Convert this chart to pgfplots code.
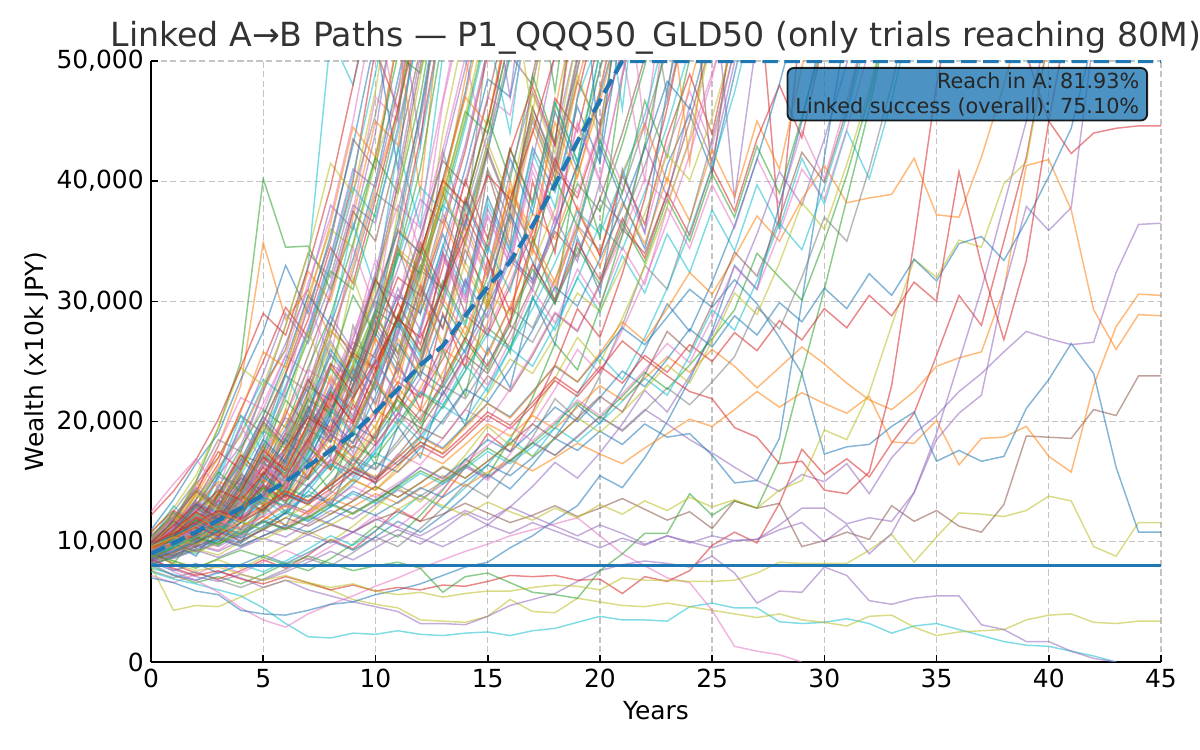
\documentclass[border=0pt]{standalone}
\usepackage{fontspec}
\setmainfont{DejaVu Sans}
\usepackage{pgfplots}
\pgfplotsset{compat=1.18}
\definecolor{T0}{HTML}{1F77B4}
\definecolor{T1}{HTML}{FF7F0E}
\definecolor{T2}{HTML}{2CA02C}
\definecolor{T3}{HTML}{D62728}
\definecolor{T4}{HTML}{9467BD}
\definecolor{T5}{HTML}{8C564B}
\definecolor{T6}{HTML}{E377C2}
\definecolor{T7}{HTML}{7F7F7F}
\definecolor{T8}{HTML}{BCBD22}
\definecolor{T9}{HTML}{17BECF}
\definecolor{gridc}{HTML}{C4C4C4}
\newcommand{\pth}[2]{\addplot[#1, line width=0.7bp, opacity=0.55] table[x expr=\coordindex, y index=0, header=false, row sep=\\]{#2\\};}
\begin{document}
\begin{tikzpicture}
\path[use as bounding box] (-72.48bp,-42.24bp) rectangle (503.52bp,317.76bp);
\begin{axis}[
  at={(0,0)}, anchor=south west,
  scale only axis, width=484.8bp, height=288.5bp,
  xmin=0, xmax=45, ymin=0, ymax=50000,
  xtick={0,5,...,45}, ytick={0,10000,20000,30000,40000,50000},
  axis lines*=left,
  axis line style={line width=0.9bp, black},
  tick align=inside, major tick length=3.5bp,
  tick style={line width=0.8bp, black},
  grid=major,
  major grid style={line width=0.6bp, gridc, dash pattern=on 3bp off 1.6bp},
  scaled y ticks=false,
  yticklabel style={/pgf/number format/.cd, fixed, 1000 sep={,}},
  /pgf/number format/assume math mode=true,
  tick label style={font=\fontsize{12}{14}\selectfont, text=black},
  clip mode=individual,
]
\coordinate (BL) at (rel axis cs:0,0);
\coordinate (TR) at (rel axis cs:1,1);
\coordinate (TC) at (rel axis cs:0.5,1);
\coordinate (BC) at (rel axis cs:0.5,0);
\coordinate (LC) at (rel axis cs:0,0.5);
% ---- fast paths
\pth{T9}{9500\\11500\\13500\\16000\\19000\\23000\\26000\\33000\\52000\\48000\\56000}
\pth{T2}{9000\\11800\\15000\\19500\\25000\\40200\\34500\\34600\\31000\\36000\\42000\\39000\\47000\\58000}
\pth{T1}{8800\\11000\\14000\\18000\\23000\\34900\\28500\\31000\\27000\\33000\\39500\\46000\\55000}
\pth{T3}{9200\\10800\\13500\\16500\\21000\\25000\\29500\\27000\\33000\\40000\\51000\\46000\\58000}
\pth{T4}{8700\\10200\\12000\\15500\\18000\\22500\\26500\\31000\\38000\\36000\\44000\\56000\\43000\\60000}
\pth{T5}{9800\\11500\\14800\\17000\\20500\\19000\\24000\\29500\\35000\\43500\\41000\\52000}
\pth{T6}{8500\\9800\\12500\\14000\\17500\\21500\\25500\\24000\\31000\\37500\\47000\\45000\\60000}
\pth{T7}{10200\\12500\\15000\\18500\\17500\\22500\\28000\\34000\\32000\\39000\\45500\\55000}
\pth{T8}{9400\\11200\\13800\\13000\\16500\\20500\\24500\\30500\\36000\\34500\\41500\\47500\\54000}
\pth{T9}{8900\\10500\\12200\\15200\\19800\\23500\\22000\\27500\\33500\\40500\\49000\\57000}
\pth{T0}{11000\\13500\\16500\\19000\\23500\\27500\\33000\\29000\\35500\\43000\\52000\\41000\\57000}
\pth{T1}{9600\\11800\\13000\\16200\\18800\\22800\\26000\\32500\\30000\\37000\\45000\\43000\\55000}
\pth{T2}{8300\\9800\\11800\\14500\\17800\\21000\\19500\\24500\\28800\\34800\\42000\\50500\\49000\\58000}
\pth{T3}{10500\\12000\\14200\\17500\\16000\\19800\\24000\\28500\\34500\\31500\\38500\\46000\\54000}
\pth{T4}{9100\\10300\\12800\\15800\\19500\\24000\\29000\\26500\\31500\\38000\\36500\\44500\\53000}
\pth{T5}{8600\\10400\\11600\\14000\\17200\\16500\\20500\\25500\\30500\\37500\\35000\\42500\\51000}
\pth{T6}{9900\\11700\\14500\\18000\\22000\\21000\\25500\\31500\\37000\\45000\\55000\\45000\\62000}
\pth{T7}{8400\\9500\\11500\\13800\\16500\\20000\\23800\\22500\\27000\\32500\\39000\\37500\\45500\\56000}
\pth{T8}{10800\\12800\\15500\\19500\\24500\\23000\\28000\\34000\\41500\\39000\\47500\\59000}
\pth{T9}{9300\\11000\\13200\\12500\\15500\\19000\\23000\\27500\\33000\\39500\\37000\\44000\\53000}
\pth{T0}{8200\\9600\\11000\\13500\\16800\\20500\\25000\\30500\\28000\\33500\\40000\\48500\\57000}
\pth{T1}{9700\\11400\\13900\\17000\\20800\\25800\\24500\\30000\\36500\\44500\\42000\\52000\\39000\\56000}
\pth{T2}{8800\\10600\\12400\\11800\\14500\\18000\\22200\\26800\\32500\\31000\\37500\\45500\\56000}
\pth{T3}{12200\\14200\\16800\\20200\\24500\\29000\\27200\\32800\\39500\\48000\\57000}
\pth{T4}{9000\\10500\\12600\\15400\\14800\\18500\\22800\\27800\\33800\\41000\\39500\\47500\\58000}
\pth{T7}{9300\\12500\\10500\\14800\\12400\\18000\\15000\\22500\\19000\\28000\\23500\\34500\\29000\\42500\\36000\\52000}
\pth{T8}{8900\\11600\\15000\\12700\\17500\\14800\\21000\\27500\\23200\\32000\\27000\\37500\\31700\\44000\\53000}
\pth{T9}{10100\\13000\\11200\\15600\\20500\\17400\\24000\\20300\\28000\\36500\\31000\\42800\\36200\\50500}
\pth{T5}{9000\\11700\\10000\\14000\\11900\\16700\\14200\\19900\\17000\\24000\\20400\\28600\\24300\\34000\\29000\\40800\\34700\\48800\\57000}
\pth{T6}{12500\\14800\\16900\\14400\\19600\\16600\\22600\\29800\\25300\\34500\\29300\\40000\\34000\\46500\\55000}
% ---- medium paths
\pth{T5}{9200\\10100\\11800\\13500\\15200\\14300\\17000\\19500\\22500\\21000\\24800\\28500\\33000\\31000\\36500\\42500\\50500\\48000\\57000}
\pth{T6}{8700\\9400\\10800\\12500\\11800\\14000\\16500\\19800\\23500\\22000\\26000\\30500\\29000\\34000\\40000\\47000\\45500\\55000}
\pth{T7}{9500\\10800\\12100\\11500\\13800\\16200\\19000\\18000\\21500\\25500\\30000\\28500\\33500\\39500\\37500\\44000\\52000}
\pth{T8}{8100\\8900\\10300\\12000\\14000\\13200\\15800\\18800\\22000\\26000\\24500\\28800\\34000\\40000\\38000\\45000\\54000}
\pth{T9}{9800\\11200\\12500\\14200\\16400\\19200\\18200\\21500\\25500\\24000\\28500\\33500\\39500\\37500\\44500\\52500\\44000\\58000}
\pth{T0}{8500\\9200\\10400\\9900\\11600\\13800\\16300\\19300\\18300\\21800\\25800\\30500\\29000\\34500\\41000\\48500\\47000\\56000}
\pth{T1}{10200\\11300\\13000\\15000\\14200\\16800\\19800\\23200\\27500\\26000\\30500\\36000\\34000\\40000\\47000\\55500}
\pth{T2}{9000\\9800\\10900\\12300\\13900\\15800\\15000\\17800\\21000\\24800\\29300\\27800\\32800\\38800\\45800\\44000\\52000}
\pth{T3}{8400\\9500\\11200\\10600\\12500\\14800\\17400\\20500\\19500\\23000\\27200\\32000\\30500\\36000\\42500\\50500}
\pth{T4}{9600\\10400\\11800\\13400\\12800\\15100\\17800\\21000\\24800\\23500\\27700\\32700\\38500\\36500\\43000\\51000}
\pth{T5}{8900\\10000\\10800\\12400\\14500\\17000\\16200\\19100\\22500\\26600\\25300\\29900\\35300\\41700\\39600\\46800\\55000}
\pth{T6}{10400\\11800\\13300\\12700\\14900\\17500\\20600\\24300\\23100\\27300\\32200\\38000\\36100\\42600\\50300\\42000\\56000}
\pth{T7}{8000\\8800\\9900\\11200\\10700\\12600\\14900\\17600\\20800\\19800\\23400\\27600\\32600\\31000\\36600\\43200\\51000}
\pth{T8}{9300\\10700\\12300\\14100\\13400\\15800\\18600\\22000\\20900\\24700\\29100\\34400\\32700\\38600\\45500\\54000}
\pth{T9}{8600\\9300\\10200\\11500\\13200\\12500\\14800\\17400\\20600\\24300\\23100\\27300\\32200\\38000\\36100\\42600\\50300}
\pth{T0}{9900\\11000\\12400\\11800\\13900\\16400\\19400\\22900\\21800\\25700\\30300\\35800\\34000\\40100\\47400\\57000}
\pth{T1}{8300\\9100\\10500\\12000\\13800\\13100\\15500\\18300\\21600\\25500\\24200\\28600\\33700\\39800\\47000\\44700\\54000}
\pth{T2}{9400\\10300\\11900\\11300\\13300\\15700\\18500\\21800\\20700\\24400\\28800\\34000\\32300\\38100\\45000\\53000}
\pth{T3}{8800\\9700\\10600\\12200\\14000\\16500\\15700\\18500\\21800\\25700\\24400\\28800\\34000\\40100\\38100\\45000\\53000}
\pth{T4}{10100\\11500\\13100\\12400\\14600\\17200\\20300\\19300\\22800\\26900\\31700\\30100\\35500\\41900\\49400\\58000\\47000\\62000}
\pth{T1}{9000\\9900\\10600\\12100\\13800\\13000\\14900\\16900\\16000\\18400\\21000\\19800\\22800\\26100\\24600\\28200\\32500\\37300\\35200\\40500\\46600\\54000}
\pth{T2}{8600\\9000\\10300\\9700\\11100\\12700\\14500\\13700\\15700\\18000\\17000\\19500\\22400\\21100\\24200\\27800\\26200\\30100\\34600\\39800\\37500\\43100\\49600\\57000}
\pth{T3}{9800\\10900\\10200\\11700\\13400\\12600\\14400\\16500\\18900\\17800\\20400\\23300\\22000\\25200\\28900\\27200\\31200\\35800\\41000\\38600\\44300\\51000}
\pth{T4}{8900\\9800\\11000\\12500\\11800\\13500\\15500\\14600\\16700\\19100\\18000\\20600\\23600\\22200\\25400\\29100\\33400\\31500\\36100\\41400\\47500\\56000}
\pth{T5}{9300\\9800\\9200\\10500\\12000\\13700\\12900\\14700\\16800\\15800\\18100\\20700\\19500\\22300\\25500\\24000\\27400\\31300\\35800\\33700\\38500\\44000\\50300}
\pth{T6}{10300\\11400\\12700\\12000\\13700\\15700\\14800\\16900\\19300\\18200\\20800\\23800\\22400\\25600\\29300\\27600\\31600\\36200\\41400\\39000\\44600\\51000\\40000\\55000}
\pth{T7}{8200\\8800\\9900\\11300\\10700\\12200\\13900\\13100\\15000\\17100\\16100\\18400\\21000\\19800\\22600\\25800\\29500\\27800\\31800\\36300\\34200\\39100\\44700\\51000}
\pth{T8}{9700\\10500\\11800\\11100\\12700\\14500\\13700\\15600\\17800\\16800\\19200\\21900\\25000\\23600\\26900\\30700\\28900\\33000\\37700\\43100\\49200\\56000}
\pth{T9}{8800\\9500\\9000\\10200\\11600\\11000\\12500\\14200\\13400\\15300\\17400\\16400\\18700\\21300\\20100\\22900\\26100\\24600\\28000\\31900\\36400\\34300\\39100\\44600\\51000}
\pth{T0}{9200\\10200\\11500\\10900\\12400\\14100\\16100\\15200\\17300\\19700\\18600\\21200\\24200\\22800\\26000\\29600\\33700\\31800\\36300\\41400\\47200\\54000}
\pth{T3}{9500\\11800\\10300\\13500\\12000\\15800\\13600\\18500\\16000\\21500\\18200\\25000\\21000\\29000\\24500\\33500\\28000\\40000\\34000\\47000\\55000}
\pth{T4}{8700\\10800\\9500\\12400\\15800\\13400\\17900\\15200\\20500\\17400\\23600\\20000\\27500\\23200\\31800\\27000\\37200\\31600\\43500\\52000}
\pth{T2}{9100\\8200\\10500\\12900\\11000\\14600\\12400\\16700\\14200\\19300\\16400\\22300\\19000\\26000\\22100\\30200\\25700\\35300\\30000\\41500\\35300\\48700\\57000}
\pth{T1}{10000\\12300\\10800\\14100\\12300\\16400\\21000\\17900\\23800\\20300\\27000\\23000\\30700\\26100\\35000\\29800\\40000\\34000\\46000\\55000}
\pth{T0}{8400\\9900\\8800\\11400\\9900\\13000\\11300\\14800\\12900\\17000\\14800\\19600\\17000\\22600\\19700\\26200\\22800\\30400\\26400\\35300\\30700\\41000\\35700\\47700\\56000}
% ---- zigzag paths reaching the top in years 17-27
\pth{T0}{9500\\10800\\12900\\11400\\14700\\13100\\16800\\21200\\18300\\22900\\27400\\24100\\29800\\35600\\31200\\38700\\34300\\42800\\39100\\46200\\41500\\53000}
\pth{T1}{8800\\10600\\9700\\12300\\14900\\13200\\17100\\15400\\19800\\24600\\21300\\26900\\23800\\30500\\36200\\32100\\39400\\35800\\44900\\40300\\47600\\56000}
\pth{T2}{10300\\12400\\11100\\13800\\16900\\15000\\18700\\23500\\20400\\25800\\31900\\28100\\34500\\30200\\37900\\45300\\40100\\48800\\43200\\57000}
\pth{T3}{9100\\10200\\12100\\10900\\13700\\16200\\14500\\18100\\22400\\19800\\24300\\29900\\26400\\32800\\40100\\35200\\42700\\38300\\46900\\44100\\52000}
\pth{T4}{8900\\11100\\13400\\12000\\15300\\13700\\17600\\21900\\19300\\24400\\21500\\27200\\33800\\29700\\36800\\32500\\40700\\47400\\42900\\49200\\58000}
\pth{T5}{9700\\11300\\10400\\12800\\15600\\14100\\17500\\21300\\18900\\23700\\28800\\25600\\31400\\27800\\35100\\42600\\37700\\45500\\40900\\48300\\44600\\55000}
\pth{T6}{8500\\9900\\11600\\10700\\13100\\15900\\14300\\17800\\16000\\20200\\25100\\22100\\27600\\33900\\30100\\37200\\33100\\41500\\36800\\44900\\40200\\48700\\57000}
\pth{T7}{10600\\12100\\14300\\13000\\16200\\19800\\17700\\21900\\26700\\23500\\28900\\25700\\32400\\39000\\34700\\42300\\37600\\46100\\41600\\50500}
\pth{T8}{9200\\10500\\9600\\11900\\14500\\13000\\16100\\19700\\17600\\21800\\19400\\24500\\30000\\26600\\33300\\29600\\37200\\45300\\40400\\48900\\43500\\56000}
\pth{T9}{8700\\10300\\12300\\11200\\13600\\16600\\14900\\18400\\22700\\20200\\25100\\22300\\27900\\34700\\30700\\38200\\34100\\42400\\37800\\46900\\52000}
\pth{T0}{9900\\11700\\10600\\13300\\12100\\15100\\18500\\16600\\20700\\25400\\22600\\28100\\24900\\31300\\38300\\34000\\41900\\37300\\45800\\41000\\49400\\56000}
\pth{T1}{9300\\10900\\13000\\11800\\14500\\17900\\16000\\19900\\24500\\21700\\26900\\23900\\30000\\36800\\32700\\29400\\36200\\44300\\39600\\48200\\55000}
\pth{T2}{8400\\9700\\11500\\10400\\12800\\15700\\14000\\17400\\21400\\19000\\23600\\28900\\25700\\31700\\28200\\35100\\42700\\38000\\46500\\41600\\50700}
\pth{T3}{10800\\12600\\11400\\14000\\17200\\15400\\19100\\23500\\20900\\26000\\31900\\28300\\34900\\31000\\38600\\34400\\42500\\47900\\43000\\56000}
\pth{T4}{9000\\10400\\12400\\11200\\13900\\17000\\15200\\18800\\23000\\20500\\25400\\31100\\27600\\34100\\30400\\37700\\33600\\41700\\50500}
\pth{T5}{9600\\11400\\10300\\12600\\15400\\13800\\17100\\20900\\18600\\23100\\28300\\25200\\31100\\27700\\34300\\30500\\37800\\46100\\41200\\50100}
\pth{T6}{8600\\10100\\12000\\10900\\13400\\16400\\14700\\18200\\16300\\20300\\24900\\22200\\27400\\33600\\29900\\37000\\33000\\40800\\36400\\44700\\39900\\49000\\58000}
\pth{T7}{9400\\11000\\9900\\12300\\15000\\13500\\16700\\20500\\18300\\22700\\27800\\24700\\30500\\37300\\33200\\41000\\36600\\45000\\40200\\49500\\55000}
\pth{T8}{10200\\12000\\14300\\12900\\15800\\19400\\17300\\21500\\26400\\23500\\29000\\25800\\32000\\39200\\34900\\43200\\38400\\47300\\42300\\52000}
\pth{T9}{8300\\9600\\11400\\10300\\12700\\15500\\13900\\17200\\21100\\18800\\23300\\28500\\25400\\31300\\27900\\34600\\30800\\38200\\46600\\41600\\50800}
\pth{T0}{9100\\10200\\11800\\10700\\12900\\15400\\13800\\16900\\20200\\18200\\22100\\26500\\23700\\28800\\25700\\31200\\37300\\33300\\29800\\35900\\42900\\38400\\34400\\41300\\45600\\40800\\48900\\57000}
\pth{T1}{8900\\10500\\9500\\11500\\13800\\12400\\15000\\18000\\16200\\19500\\23400\\21000\\25300\\30300\\27200\\32700\\39200\\35200\\31600\\37900\\33900\\40700\\44800\\39900\\47900\\55000}
\pth{T3}{10000\\11300\\13200\\11900\\14300\\17100\\15400\\18500\\22200\\20000\\24000\\28800\\25900\\31100\\37300\\33500\\29200\\35000\\41900\\37600\\33800\\40500\\36400\\43700\\48900\\43900\\52500}
\pth{T2}{9300\\10700\\9700\\11600\\13900\\12500\\15000\\17900\\16100\\19300\\23100\\20800\\24900\\29800\\26800\\32100\\38400\\34500\\40300\\36200\\43400\\39000\\46700\\42000\\50200}
\pth{T4}{8600\\9800\\11500\\10400\\12400\\14800\\13300\\15900\\19000\\17100\\20500\\24500\\22100\\26500\\31800\\28600\\34300\\30900\\37000\\33300\\39900\\35900\\43000\\38700\\46300\\41700\\49900\\56000}
\pth{T6}{9800\\11000\\12700\\11500\\13800\\16500\\14900\\17800\\21300\\19200\\23000\\27600\\24800\\29700\\35600\\32000\\38300\\34500\\30800\\36900\\44200\\39700\\35700\\42700\\47500\\42800\\51000}
% ---- paths that dip back from the top
\pth{T2}{9000\\10800\\13000\\15800\\14200\\17500\\21800\\19600\\24500\\30500\\27200\\33800\\41000\\52000\\60000\\58000\\63000\\59000\\47500\\61000}
\pth{T6}{9400\\11300\\10300\\13500\\16800\\15100\\19000\\23800\\21300\\26800\\33500\\30000\\37600\\46800\\56000\\62000\\59000\\66000\\61000\\57000\\64000\\60000\\44000\\58000}
\pth{T1}{8700\\10100\\12200\\11000\\13800\\17300\\15500\\19500\\24500\\22000\\27600\\34500\\31000\\39000\\48500\\58000\\55000\\61000\\57000\\63000\\60000\\65000\\61000\\57000\\41500\\56000}
\pth{T4}{10100\\12000\\14500\\13000\\16300\\20400\\18400\\23000\\28800\\25900\\32400\\40500\\50500\\59000\\64000\\60000\\67000\\62000\\66000\\61000\\64000\\60000\\63000\\59000\\62000\\58000\\38500\\52000}
\pth{T0}{9200\\10900\\13100\\11800\\14800\\18500\\16600\\20800\\26000\\23400\\29300\\36600\\45800\\57000\\53000\\60000\\57000\\62000\\58000\\63000\\42000\\58000}
\pth{T3}{8900\\10400\\12500\\11300\\14100\\17600\\15900\\19900\\24800\\22300\\27900\\34900\\43600\\54000\\61000\\57000\\64000\\60000\\66000\\62000\\65000\\61000\\64000\\60000\\63000\\59000\\62000\\58000\\36000\\54000}
\pth{T8}{9700\\11600\\14000\\12600\\15800\\19700\\17700\\22200\\27700\\24900\\31200\\39000\\48700\\58000\\55000\\61000\\57000\\45500\\59000}
\pth{T7}{9000\\10700\\12900\\11600\\14500\\18200\\16400\\20500\\25600\\23000\\28800\\36000\\45000\\56000\\52000\\59000\\55000\\62000\\58000\\64000\\60000\\62000\\58000\\47000\\60000}
\pth{T9}{8600\\10200\\12300\\11100\\13900\\17300\\15600\\19500\\24400\\22000\\27500\\34300\\42900\\53600\\50000\\58000\\55000\\61000\\57000\\63000\\59000\\46000\\62000}
\pth{T5}{9900\\11800\\14200\\12800\\16000\\20000\\18000\\22500\\28200\\25400\\31700\\39700\\49600\\60000\\57000\\63000\\59000\\65000\\61000\\66000\\62000\\64000\\60000\\63000\\59000\\40500\\55000}
% ---- paths lingering at 25-45k
\pth{T2}{9100\\10300\\11800\\10800\\12500\\14500\\13200\\15300\\17800\\16200\\18800\\21800\\19800\\23000\\26700\\24300\\28200\\32700\\29800\\34500\\31400\\36500\\33200\\38500\\35000\\40600\\37000\\42900\\39000\\45300\\52000}
\pth{T6}{8800\\9900\\11300\\10300\\11900\\13800\\12600\\14600\\16900\\15400\\17800\\20700\\18800\\21800\\25300\\23000\\26700\\31000\\28200\\32700\\29700\\34500\\31400\\37800\\34400\\39700\\36100\\41900\\38100\\44200\\40200\\46700\\54000}
\pth{T1}{9600\\10800\\12400\\11300\\13100\\15200\\13800\\16100\\18600\\17000\\19700\\22800\\20800\\24100\\28000\\25500\\29600\\34300\\31200\\36200\\32900\\38200\\34800\\40300\\36700\\42600\\38700\\45000\\41000\\49500\\57000}
\pth{T9}{8500\\9600\\11000\\10000\\11600\\13500\\12300\\14200\\16500\\15000\\17400\\20200\\18400\\21300\\24700\\22500\\26100\\30300\\27600\\32000\\29100\\33800\\30700\\35600\\32400\\37600\\34200\\39700\\36100\\41900\\38100\\44200\\40200\\46700\\55000}
\pth{T3}{9300\\10500\\12000\\10900\\12700\\14700\\13400\\15500\\18000\\16400\\19000\\22100\\20100\\23300\\27000\\24600\\28500\\33100\\30100\\34900\\31800\\36900\\33600\\39000\\35500\\41200\\37500\\43500\\48000\\43600\\52000}
% ---- slower paths
\pth{T5}{9000\\9600\\10500\\11200\\10400\\11800\\13200\\12500\\14000\\15800\\15000\\17200\\19500\\18600\\21000\\23800\\22500\\25500\\29000\\27500\\31500\\36000\\34000\\39000\\45000\\52000}
\pth{T6}{8600\\9100\\9800\\9300\\10500\\11700\\11100\\12600\\14200\\13500\\15300\\17300\\16400\\18600\\21000\\20000\\22700\\25700\\29100\\27600\\31300\\35500\\40200\\38200\\43300\\49000\\55000}
\pth{T7}{9300\\9900\\10800\\11600\\11000\\12400\\13900\\13200\\14900\\16800\\16000\\18100\\20400\\23000\\21900\\24800\\28000\\26600\\30100\\34000\\38500\\36500\\41300\\46700\\55000}
\pth{T8}{8200\\8700\\9400\\8900\\10000\\11200\\12500\\11900\\13400\\15100\\14300\\16200\\18300\\17400\\19700\\22300\\25200\\24000\\27100\\30700\\29200\\33000\\37300\\42200\\40100\\45300\\52000}
\pth{T9}{9700\\10300\\9800\\11000\\12300\\13700\\13000\\14600\\16400\\15600\\17600\\19900\\22500\\21400\\24200\\27300\\26000\\29400\\33200\\37500\\35600\\40300\\45500\\53000}
\pth{T0}{8400\\8900\\9600\\10400\\9900\\11100\\12400\\13900\\13200\\14800\\16600\\15800\\17800\\20100\\22700\\21600\\24400\\27600\\31200\\29600\\33500\\37800\\42700\\48300\\46000\\53000}
\pth{T2}{8000\\7200\\6600\\7100\\6500\\7300\\8200\\7600\\8600\\9800\\11300\\10400\\12200\\14300\\16900\\15500\\18500\\22000\\26500\\24300\\29500\\35500\\43000\\52000}
\pth{T3}{9200\\8100\\7400\\6900\\7600\\8500\\7800\\8900\\10200\\9400\\10900\\12700\\11700\\13800\\16200\\19000\\17500\\20800\\24700\\29400\\27000\\32300\\38600\\46100\\55000}
\pth{T7}{7600\\7000\\7500\\6800\\6200\\6900\\7700\\8600\\8000\\9100\\10400\\9600\\11100\\12800\\14800\\13700\\16000\\18700\\21900\\20200\\23800\\28000\\33000\\31000\\36700\\43400\\51000}
\pth{T0}{8300\\7600\\8200\\7400\\8100\\8900\\8200\\9100\\10100\\9300\\10400\\11700\\10800\\12200\\13800\\15600\\14400\\16400\\18700\\21400\\19800\\22700\\26000\\29800\\27500\\31600\\36300\\41800\\48100\\55000}
\pth{T6}{7200\\6600\\7300\\8100\\7400\\8300\\9300\\8500\\9600\\10800\\12200\\11200\\12700\\14400\\16400\\15100\\17300\\19800\\22700\\26000\\24000\\27600\\31800\\36600\\42200\\48600\\56000}
\pth{T4}{8600\\7700\\7100\\6700\\7300\\6800\\7500\\8300\\9200\\8500\\9500\\10600\\9800\\11000\\12400\\11400\\12900\\14600\\16600\\15300\\17400\\19800\\22600\\20800\\23800\\27200\\31100\\35600\\40800\\38000\\43500\\49800\\57000}
\pth{T8}{9500\\8400\\7900\\8500\\7800\\8700\\9700\\10900\\10000\\11300\\12800\\14500\\13300\\15100\\17200\\19600\\18000\\20600\\23600\\27000\\24900\\28600\\32900\\37900\\43600\\52000}
\pth{T9}{7800\\7300\\6800\\7400\\8100\\7500\\8400\\9400\\10500\\9700\\10900\\12300\\13900\\12800\\14500\\16400\\18600\\17100\\19500\\22300\\25500\\23500\\27000\\31100\\35800\\41200\\47400\\55000}
% ---- traced long paths
\pth{T9}{7500\\6900\\6500\\6000\\5500\\4500\\3200\\2100\\2000\\2400\\2300\\2600\\2300\\2200\\2400\\2500\\2200\\2600\\2800\\3300\\3800\\3500\\3500\\3400\\4600\\4900\\4500\\4500\\3350\\3200\\3300\\3600\\3200\\2400\\3000\\3200\\2700\\2200\\1700\\1400\\1300\\900\\500\\0}
\pth{T8}{8000\\4300\\4700\\4600\\5400\\6200\\6800\\6500\\6000\\5200\\4800\\4500\\3500\\3400\\3300\\3800\\5200\\4200\\4100\\5300\\5000\\4700\\4600\\4900\\4600\\4300\\4000\\3700\\4000\\3500\\3300\\3000\\3800\\3900\\2900\\2200\\2500\\2600\\2700\\3500\\3900\\4000\\3300\\3200\\3400\\3400}
\pth{T4}{8200\\7200\\6800\\7500\\7000\\6200\\6800\\6000\\5500\\5000\\4600\\4200\\3200\\3200\\3100\\3800\\4700\\5200\\5700\\6700\\7600\\8100\\8400\\8200\\7900\\8800\\7400\\4900\\5900\\5800\\7900\\7200\\5100\\4800\\5300\\5500\\5500\\3100\\2700\\1700\\1700\\900\\300\\0}
\pth{T6}{8800\\7500\\6800\\5800\\4500\\3500\\2900\\4000\\4800\\5500\\6300\\7000\\7800\\8500\\9200\\9800\\10500\\11000\\11500\\12000\\10500\\9000\\8000\\7000\\6600\\4300\\1300\\900\\600\\0}
\pth{T0}{7000\\6600\\5900\\5600\\4300\\4000\\3900\\4300\\4800\\5000\\5600\\6000\\6500\\7200\\7900\\8300\\9500\\10500\\11800\\13000\\15500\\14500\\17000\\20000\\23500\\27500\\33000\\31000\\38000\\45000\\53000}
\pth{T3}{8500\\7800\\7200\\7600\\6900\\6500\\7100\\6600\\6000\\6400\\5900\\6200\\6000\\6400\\6300\\6700\\7200\\7100\\7200\\6800\\6900\\5700\\7100\\6700\\7600\\9700\\10800\\9900\\13200\\17700\\15600\\16900\\15400\\18200\\20700\\25500\\30500\\28000\\35000\\42000\\52000}
\pth{T2}{9000\\8400\\7800\\8600\\9300\\8700\\8100\\8800\\8200\\7600\\8000\\8300\\7800\\5800\\7100\\7400\\6600\\5800\\5600\\5300\\7600\\9000\\10700\\10700\\14000\\12200\\13400\\12800\\16800\\24000\\31000\\38500\\46000\\55000}
\pth{T8}{8900\\8200\\7600\\7900\\7300\\6800\\7200\\6600\\6200\\6500\\5900\\5600\\5800\\5400\\5700\\5900\\5900\\6200\\6400\\6300\\6000\\7000\\6800\\6800\\6700\\6700\\6800\\7400\\8300\\8200\\8200\\8200\\9300\\10600\\8300\\10400\\12400\\12300\\12100\\12600\\13800\\13400\\9600\\8800\\11600\\11600}
\pth{T5}{9400\\8800\\9600\\10300\\9700\\10500\\11200\\10600\\11400\\10800\\11800\\12500\\11700\\12300\\13200\\12400\\11600\\12200\\13000\\12100\\12800\\13600\\12700\\11800\\12500\\11100\\13400\\12800\\13200\\9600\\10100\\10800\\10200\\13000\\11700\\12600\\11300\\10800\\13100\\18800\\18700\\18600\\21000\\20500\\23800\\23800}
\pth{T1}{9100\\9900\\10800\\10200\\11300\\12100\\11400\\12500\\13600\\12900\\14000\\13200\\14400\\15500\\14600\\15800\\16800\\15900\\17000\\18200\\17300\\16500\\17800\\19000\\20200\\19600\\21000\\22500\\21200\\22400\\21500\\20700\\22100\\18300\\18200\\20100\\16400\\18600\\18700\\19600\\17100\\15800\\23000\\27900\\30600\\30500}
\pth{T1}{8700\\9400\\10400\\11200\\10600\\11800\\13000\\12300\\13700\\15200\\14300\\15900\\17400\\16500\\18100\\19800\\18800\\20500\\19400\\21200\\23000\\21800\\23600\\25400\\24100\\26000\\24600\\22800\\24500\\26200\\24800\\23200\\21800\\21000\\22500\\24600\\25300\\25800\\31000\\41300\\41800\\37600\\29300\\26000\\28900\\28800}
\pth{T0}{9800\\10500\\11400\\12300\\11600\\12800\\14000\\13300\\14700\\16200\\15300\\17000\\18800\\17800\\19700\\21500\\20400\\22500\\24600\\23300\\25500\\27800\\26400\\28700\\31000\\29500\\31800\\29800\\27000\\24000\\17300\\17900\\18100\\19600\\20800\\16700\\17600\\16700\\17100\\21100\\23500\\26500\\24000\\16200\\10800\\10800}
\pth{T4}{8300\\8900\\9700\\9200\\10100\\11000\\10400\\11500\\12600\\11900\\13100\\14300\\13500\\14800\\16200\\15300\\16700\\18200\\17200\\18800\\20400\\19300\\21000\\19800\\18500\\17400\\16200\\15100\\14200\\15600\\15000\\16500\\14000\\17000\\19000\\20500\\22500\\24000\\25800\\27500\\26900\\26400\\26600\\32400\\36400\\36500}
\pth{T3}{9600\\11000\\12500\\14300\\13500\\15600\\17800\\20300\\19200\\22000\\25000\\28500\\27000\\31000\\35500\\40500\\38500\\44000\\50500\\56000\\53000\\58000\\55000\\60000\\57000\\62000\\58000\\60000\\56000\\61000\\57000\\62000\\58000\\63000\\59000\\60000\\57000\\58000\\55000\\50500\\45000\\42300\\44000\\44400\\44600\\44600}
\pth{T4}{8800\\9300\\10100\\9600\\10600\\11700\\11100\\12200\\11500\\10800\\11900\\11200\\10500\\11500\\12600\\11800\\12900\\12100\\11300\\10500\\11400\\10700\\9800\\10500\\10000\\9500\\10100\\10200\\11400\\12800\\12800\\11500\\12000\\11700\\14100\\18500\\20700\\22200\\31000\\37900\\35900\\37800\\52000}
\pth{T4}{9200\\8600\\9300\\8700\\9500\\10300\\9700\\10600\\9900\\10800\\10100\\11000\\10300\\9600\\10500\\11400\\10700\\11600\\10900\\10200\\9500\\10300\\9700\\10500\\9900\\10500\\10100\\10200\\11000\\11600\\10000\\11400\\9000\\10700\\14100\\19000\\25000\\31000\\38000\\45000\\53000}
\pth{T3}{9500\\10300\\11200\\10500\\11600\\12700\\13900\\13100\\14400\\15800\\14900\\16400\\18000\\17000\\18700\\20500\\19400\\21300\\23400\\22100\\24300\\26700\\25200\\23800\\22500\\21900\\19500\\18700\\16500\\16700\\14300\\14000\\15800\\23000\\35000\\48000\\58000}
\pth{T0}{8100\\8700\\9400\\10200\\9600\\10500\\11400\\10800\\11800\\12900\\12200\\13300\\14500\\13700\\15000\\16400\\15500\\17000\\18600\\17600\\19200\\18100\\19800\\18700\\19000\\17200\\14900\\15100\\18600\\30000\\42000\\53000}
\pth{T8}{9000\\9700\\9100\\9900\\10800\\10200\\11100\\12100\\11400\\12400\\13500\\12700\\13800\\13000\\12200\\13300\\12500\\11800\\12800\\12000\\13100\\12300\\13400\\12600\\13700\\12900\\13500\\12800\\14300\\15100\\19300\\18500\\22400\\28000\\33500\\32000\\35100\\34500\\39800\\41600\\52000}
\pth{T1}{9400\\10300\\11300\\12400\\11700\\12900\\14200\\13400\\14800\\16300\\15400\\17000\\18700\\17700\\19500\\21500\\20300\\22400\\24700\\23300\\25700\\28300\\26700\\29400\\32400\\30600\\33700\\37100\\35000\\38500\\41300\\38200\\38600\\38900\\41900\\37200\\37000\\42000\\48000\\55000}
\pth{T0}{8600\\9200\\10000\\10900\\10300\\11300\\12400\\11700\\12900\\14200\\13400\\14700\\16200\\15300\\16800\\18500\\17500\\19200\\21200\\20000\\22000\\24200\\22900\\25200\\27700\\26200\\28800\\27200\\29900\\28300\\31100\\29400\\32300\\30500\\33500\\31700\\34800\\35400\\33400\\36700\\40400\\44400\\52000}
\pth{T3}{9900\\10700\\11600\\12600\\11900\\13000\\14200\\13400\\14700\\16100\\15200\\16700\\18300\\17300\\19000\\20800\\19700\\21600\\23700\\22400\\24600\\23200\\25500\\24100\\26400\\25000\\27400\\25900\\28400\\26800\\29400\\27800\\30500\\28800\\31600\\30000\\40800\\33000\\26800\\33400\\45000\\55000}
\pth{T7}{9100\\9800\\9200\\10000\\10900\\11800\\11100\\12100\\13200\\12400\\13500\\14700\\13800\\15000\\16400\\15400\\16800\\18300\\17200\\18700\\20400\\19200\\20900\\22800\\21400\\23300\\25400\\29500\\27700\\32000\\37000\\35000\\41000\\48000\\56000}
\pth{T2}{8700\\9500\\10400\\9800\\10700\\11700\\11000\\12000\\13100\\12300\\13400\\14600\\15900\\15000\\16300\\17800\\16700\\18200\\19800\\21600\\20300\\22100\\24100\\22700\\24700\\26900\\29300\\34000\\32000\\30100\\35000\\40500\\47000\\55000}
\pth{T6}{9300\\10000\\10900\\11800\\11100\\12100\\13100\\12300\\13400\\14600\\13700\\14900\\16200\\15200\\16600\\18000\\19600\\18400\\20000\\21800\\20500\\22300\\24300\\26500\\24900\\28600\\32900\\31000\\35700\\41000\\38500\\44300\\51000}
\pth{T9}{8900\\9600\\10400\\11300\\10600\\11600\\12600\\11800\\12900\\14000\\13200\\14400\\15700\\14800\\16100\\17500\\16500\\17900\\19500\\18300\\19900\\21700\\23600\\22200\\25500\\29300\\27600\\31700\\36500\\34300\\39500\\45400\\53000}
\pth{T8}{9600\\10400\\9800\\10700\\11700\\11000\\12000\\13100\\12300\\13400\\14600\\13700\\14900\\16300\\15300\\16700\\18200\\17100\\18600\\20300\\19100\\20800\\22700\\24700\\23200\\26700\\30700\\28900\\33200\\38200\\36000\\41400\\47600\\55000}
\pth{T5}{8500\\9100\\9900\\10800\\10100\\11000\\12000\\11300\\12300\\13400\\14600\\13700\\14900\\16200\\15300\\16700\\18200\\19800\\18600\\20300\\22100\\20800\\23900\\27500\\25800\\29700\\34100\\32100\\36900\\42400\\39900\\45900\\54000}
% ---- thresholds and median
\addplot[T0, line width=1.5bp] coordinates {(0,8000) (45,8000)};
\addplot[T0, line width=2bp, dash pattern=on 7.4bp off 3.2bp] table[x expr=\coordindex, y index=0, header=false, row sep=\\]{9000\\9900\\10800\\11800\\12800\\13900\\15000\\16300\\17600\\19000\\20800\\22700\\24700\\26300\\28800\\31200\\33300\\36300\\39700\\43300\\46700\\50000\\50000\\50000\\50000\\50000\\50000\\50000\\50000\\50000\\50000\\50000\\50000\\50000\\50000\\50000\\50000\\50000\\50000\\50000\\50000\\50000\\50000\\50000\\50000\\50000\\};
\end{axis}
\node[anchor=north east, fill=T0, fill opacity=0.8, text opacity=1, draw=black, draw opacity=0.85, rounded corners=3bp, line width=0.9bp, inner xsep=3.8bp, inner ysep=2.2bp, align=right, font=\fontsize{10}{12}\selectfont, text=black!85] at ([xshift=-6.2bp, yshift=-2.9bp]TR) {Reach in A: 81.93\%\\Linked success (overall): 75.10\%};
\node[anchor=base, font=\fontsize{16}{19}\selectfont, text=black!80] at ([yshift=6.7bp]TC) {Linked A→B Paths — P1\_QQQ50\_GLD50 (only trials reaching 80M)};
\node[anchor=base, font=\fontsize{12}{14}\selectfont] at ([yshift=-27.4bp]BC) {Years};
\node[anchor=base, rotate=90, font=\fontsize{12}{14}\selectfont] at ([xshift=-51.8bp]LC) {Wealth (x10k JPY)};
\end{tikzpicture}
\end{document}
